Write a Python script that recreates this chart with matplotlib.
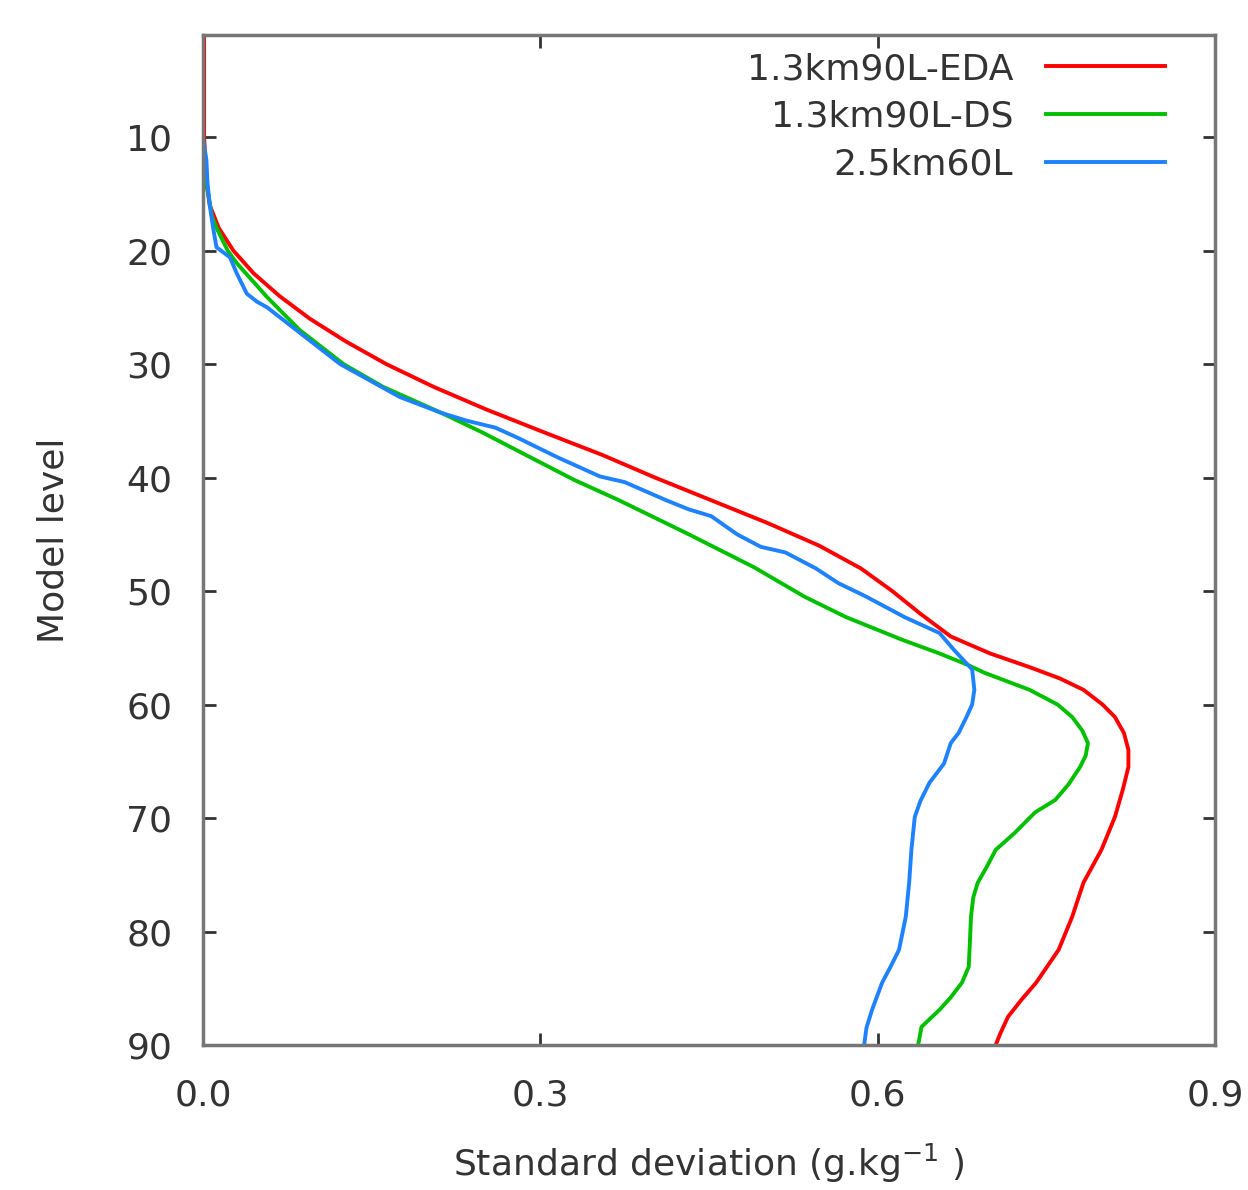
import matplotlib
matplotlib.use("Agg")
import matplotlib.pyplot as plt

# ---- data (model level, standard deviation g/kg) ----
eda_level = [1, 10, 14, 16, 18, 20, 22, 24, 26, 28, 30, 32, 34, 36, 38, 40, 42, 44, 46, 48,
             50, 52, 54, 55.5, 56.7, 57.7, 58.7, 60, 61.1, 62.5, 64, 65.5, 67.5, 69.9, 72.8,
             75.7, 78.7, 81.6, 84.5, 86, 87.5, 89, 90]
eda_sd = [0.001, 0.001, 0.003, 0.006, 0.014, 0.027, 0.045, 0.068, 0.095, 0.127, 0.163, 0.205,
          0.252, 0.303, 0.355, 0.402, 0.452, 0.502, 0.548, 0.585, 0.613, 0.638, 0.665, 0.70,
          0.735, 0.762, 0.783, 0.800, 0.811, 0.819, 0.823, 0.823, 0.818, 0.811, 0.799,
          0.783, 0.773, 0.761, 0.741, 0.728, 0.716, 0.709, 0.705]

ds_level = [1, 10, 11, 14, 17, 18.2, 20, 21.1, 24.1, 27, 30, 32, 34.3, 36, 38, 40.2, 42, 44.9,
            47.9, 50.5, 52.3, 54.3, 55.5, 56.5, 57.2, 58.7, 60, 61.1, 62.3, 63.4, 64.5, 65.5,
            67, 68.4, 69.5, 71.3, 72.8, 74.3, 75.7, 77, 78.7, 81, 83.1, 84.5, 85.8, 86.9,
            88.4, 90]
ds_sd = [0.0, 0.0, 0.0, 0.003, 0.008, 0.013, 0.022, 0.030, 0.057, 0.086, 0.125, 0.16, 0.212,
         0.248, 0.287, 0.33, 0.37, 0.43, 0.49, 0.535, 0.572, 0.622, 0.655, 0.68, 0.695, 0.735,
         0.76, 0.773, 0.782, 0.787, 0.785, 0.780, 0.77, 0.758, 0.74, 0.722, 0.705, 0.697,
         0.689, 0.685, 0.683, 0.682, 0.681, 0.675, 0.665, 0.655, 0.639, 0.636]

l60_level = [1, 10, 12, 14, 16, 18, 19.7, 20.6, 22, 23.8, 24.5, 25, 27, 30, 32.9, 34.3, 35.0,
             35.6, 36.5, 38.2, 39.9, 40.4, 42.0, 42.8, 43.4, 45, 46.1, 46.6, 48, 49.3, 50.5,
             52.3, 53.7, 55.2, 56.9, 58.7, 60, 61.1, 62.5, 63.4, 65.2, 66.9, 68.5, 69.9, 72.8,
             75.7, 78.7, 81.6, 83, 84.5, 86.9, 88.5, 90]
l60_sd = [0.0, 0.0, 0.003, 0.004, 0.006, 0.009, 0.012, 0.024, 0.030, 0.039, 0.048, 0.057,
          0.083, 0.122, 0.175, 0.212, 0.235, 0.26, 0.28, 0.315, 0.353, 0.375, 0.412, 0.432,
          0.452, 0.475, 0.496, 0.518, 0.545, 0.565, 0.59, 0.624, 0.655, 0.668, 0.684, 0.686,
          0.684, 0.679, 0.672, 0.665, 0.659, 0.646, 0.638, 0.633, 0.630, 0.628, 0.625, 0.619,
          0.612, 0.604, 0.595, 0.59, 0.588]

labels = ["1.3km90L-EDA", "1.3km90L-DS", "2.5km60L"]
colors = ["#ff0000", "#00c000", "#1e82ff"]

x_ticks = [0.0, 0.3, 0.6, 0.9]
x_ticklabels = ["0.0", "0.3", "0.6", "0.9"]
y_ticks = [10, 20, 30, 40, 50, 60, 70, 80, 90]

fig = plt.figure(figsize=(12.48, 11.90), dpi=100)
ax = fig.add_axes([203 / 1248, 1 - 1045 / 1190, (1215 - 203) / 1248, (1045 - 35) / 1190])

series = [(eda_sd, eda_level), (ds_sd, ds_level), (l60_sd, l60_level)]
for (sd, lev), lab, col in zip(series, labels, colors):
    ax.plot(sd, lev, color=col, lw=2.8, label=lab, solid_joinstyle="round")

ax.set_xlim(0.0, 0.9)
ax.set_ylim(90, 1)
ax.set_xticks(x_ticks)
ax.set_xticklabels(x_ticklabels)
ax.set_yticks(y_ticks)

txt = "#333333"
fs = 26
for s in ax.spines.values():
    s.set_color("#767676")
    s.set_linewidth(2.5)
ax.tick_params(direction="in", length=9, width=2, color="#333333",
               top=True, right=True, labelsize=fs, labelcolor=txt)
ax.tick_params(axis="y", pad=22)
ax.tick_params(axis="x", pad=24)

ax.set_xlabel("Standard deviation (g.kg$^{\\mathregular{-1}}$ )", fontsize=fs, color=txt, labelpad=21)
ax.set_ylabel("Model level", fontsize=fs, color=txt, labelpad=40)

leg = ax.legend(loc="upper right", frameon=False, markerfirst=False, fontsize=fs,
                handlelength=3.3, handletextpad=0.9, labelspacing=0.38,
                borderpad=0.0, borderaxespad=0.0,
                bbox_to_anchor=((1165 - 203) / 1012, (1045 - 52) / 1010))
for t in leg.get_texts():
    t.set_color(txt)

fig.savefig("out.png", dpi=100)
